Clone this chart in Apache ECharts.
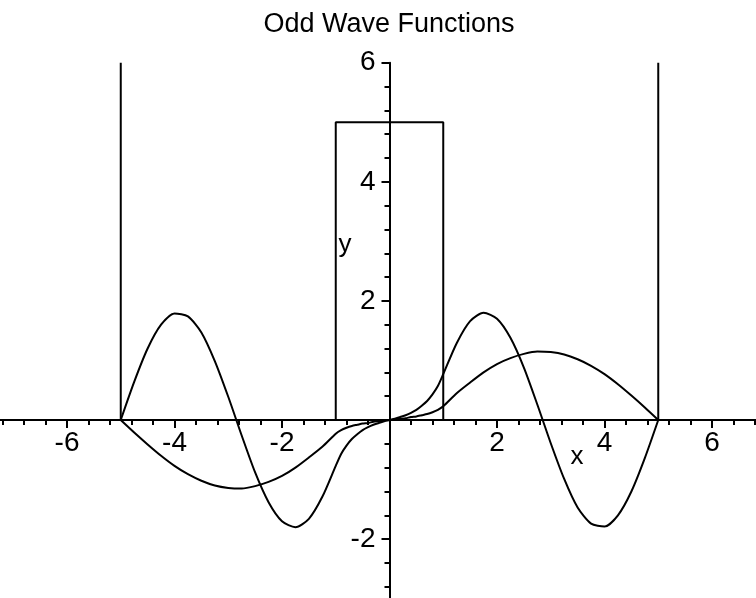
<!DOCTYPE html>
<html>
<head>
<meta charset="utf-8">
<script src="https://cdn.jsdelivr.net/npm/echarts@6/dist/echarts.min.js"></script>
<style>
html, body { margin: 0; padding: 0; background: #fff; }
#chart { width: 756px; height: 598px; }
</style>
</head>
<body>
<div id="chart"></div>
<script>
const chartTitle = 'Odd Wave Functions';

// Square double well: hard walls at x = ±5, central barrier of height 5 on -1..1
const potentialX = [-5, -5, -1, -1, 1, 1, 5, 5];
const potentialY = [6, 0, 0, 5, 5, 0, 0, 6];

// Sample positions for the two wave functions
const xs = [
  -5, -4.75, -4.5, -4.25, -4, -3.75, -3.5, -3.25, -3, -2.75, -2.5, -2.25, -2, -1.75, -1.5, -1.25, -1,
  -0.9, -0.8, -0.7, -0.6, -0.5, -0.4, -0.3, -0.2, -0.1, 0, 0.1, 0.2, 0.3, 0.4, 0.5, 0.6, 0.7, 0.8, 0.9,
  1, 1.25, 1.5, 1.75, 2, 2.25, 2.5, 2.75, 3, 3.25, 3.5, 3.75, 4, 4.25, 4.5, 4.75, 5
];

// Lower odd state: one lobe in each well
const psiLow = [
  0, -0.21, -0.41, -0.60, -0.77, -0.91, -1.02, -1.10, -1.14, -1.15, -1.11, -1.04, -0.94, -0.80, -0.63, -0.45, -0.23,
  -0.17, -0.13, -0.10, -0.08, -0.06, -0.05, -0.03, -0.02, -0.01, 0, 0.01, 0.02, 0.03, 0.05, 0.06, 0.08, 0.10, 0.13, 0.17,
  0.23, 0.45, 0.63, 0.80, 0.94, 1.04, 1.11, 1.15, 1.14, 1.10, 1.02, 0.91, 0.77, 0.60, 0.41, 0.21, 0
];

// Higher odd state: one node in each well
const psiHigh = [
  0, 0.64, 1.20, 1.60, 1.79, 1.74, 1.47, 0.99, 0.39, -0.26, -0.88, -1.38, -1.70, -1.80, -1.66, -1.29, -0.77,
  -0.57, -0.43, -0.32, -0.24, -0.17, -0.12, -0.08, -0.05, -0.02, 0, 0.02, 0.05, 0.08, 0.12, 0.17, 0.24, 0.32, 0.43, 0.57,
  0.77, 1.29, 1.66, 1.80, 1.70, 1.38, 0.88, 0.26, -0.39, -0.99, -1.47, -1.74, -1.79, -1.60, -1.20, -0.64, 0
];

// Numbered ticks on each axis
const xTickLabels = [-6, -4, -2, 2, 4, 6];
const yTickLabels = [-2, 2, 4, 6];

const axisNames = { x: 'x', y: 'y' };

const INK = '#000';
const FONT = '"Liberation Sans", Arial, sans-serif';

const zip = (a, b) => a.map((v, i) => [v, b[i]]);

const chart = echarts.init(document.getElementById('chart'), null, { renderer: 'canvas' });

const lineSeries = data => ({
  type: 'line',
  data,
  showSymbol: false,
  smooth: 0.25,
  lineStyle: { color: INK, width: 2 },
  silent: true,
  z: 3
});

// Tick numbers are placed on the axes through the data scales
const tickLabelSeries = (data, position, distance, pick) => ({
  type: 'scatter',
  data,
  symbolSize: 0,
  silent: true,
  itemStyle: { opacity: 1, color: INK },
  label: {
    show: true,
    position,
    distance,
    opacity: 1,
    color: INK,
    fontFamily: FONT,
    fontSize: 28,
    formatter: p => String(p.value[pick])
  },
  z: 4
});

const common = {
  axisLine: { onZero: true, lineStyle: { color: INK, width: 2 } },
  axisTick: { show: true, length: 8, lineStyle: { color: INK, width: 2 } },
  minorTick: { show: true, splitNumber: 5, length: 5, lineStyle: { color: INK, width: 2 } },
  splitLine: { show: false },
  axisLabel: { show: false }
};

chart.setOption({
  animation: false,
  backgroundColor: '#fff',
  title: {
    text: chartTitle,
    left: 384,
    top: 6,
    textAlign: 'center',
    textStyle: { fontFamily: FONT, fontSize: 27, fontWeight: 'normal', color: INK }
  },
  // the plotting box runs past the canvas edges so the axes reach the borders
  grid: { left: -40.5, right: -63.5, top: 62.7, bottom: -60.2, outerBoundsMode: 'none', containLabel: false },
  xAxis: Object.assign({ type: 'value', min: -8, max: 8, interval: 2 }, common),
  yAxis: Object.assign({ type: 'value', min: -4, max: 6, interval: 2 }, common),
  graphic: [
    { type: 'text', x: 577, y: 457, style: { text: axisNames.x, font: '26px ' + FONT, fill: INK, textAlign: 'center', textVerticalAlign: 'middle' } },
    { type: 'text', x: 345, y: 245, style: { text: axisNames.y, font: '26px ' + FONT, fill: INK, textAlign: 'center', textVerticalAlign: 'middle' } }
  ],
  series: [
    Object.assign(lineSeries(zip(potentialX, potentialY)), { smooth: false }),
    lineSeries(zip(xs, psiLow)),
    lineSeries(zip(xs, psiHigh)),
    tickLabelSeries(xTickLabels.map(v => [v, 0]), 'bottom', 9, 0),
    tickLabelSeries(yTickLabels.map(v => [0, v]), 'left', 14, 1)
  ]
});
</script>
</body>
</html>
